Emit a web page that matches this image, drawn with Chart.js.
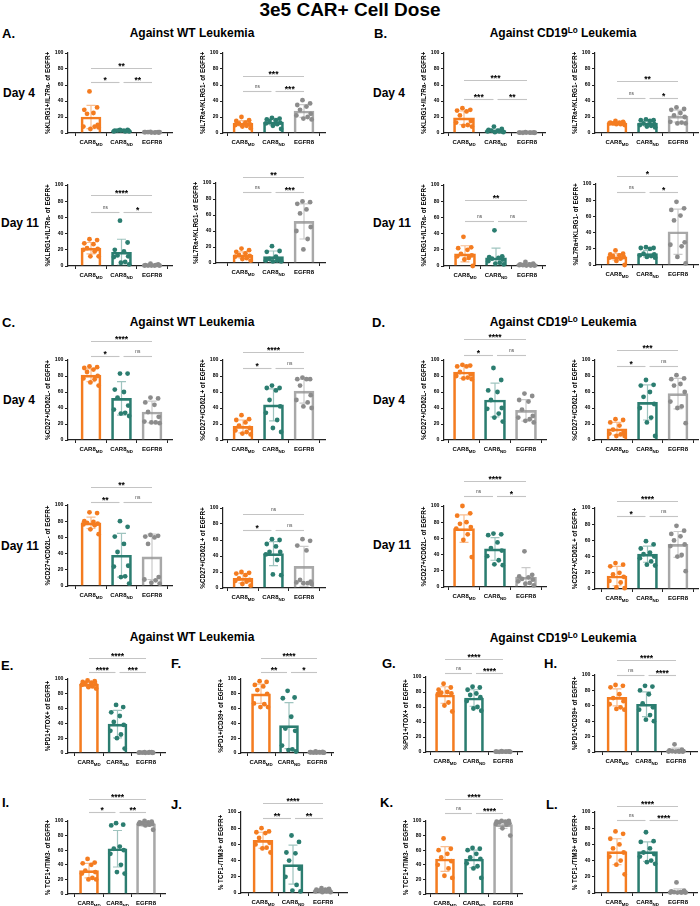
<!DOCTYPE html>
<html><head><meta charset="utf-8">
<script src="https://cdn.jsdelivr.net/npm/chart.js@4"></script>
<style>
body{margin:0;width:700px;height:906px;background:#fff;position:relative;overflow:hidden;font-family:"Liberation Sans",Arial,sans-serif;}
.t{position:absolute;font-weight:bold;color:#000;white-space:nowrap;line-height:1;}
.t sup{font-size:0.68em;vertical-align:0.55em;line-height:0;}
canvas{position:absolute;}
</style></head><body>
<script>
// ---------- categories / ticks ----------
const categories = ["CAR8", "CAR8", "EGFR8"];
const catSubs = ["MD", "ND", ""];
const yTicks = [0, 20, 40, 60, 80, 100];

// ---------- A: Against WT, KLRG1 / IL7Ra ----------
const A1_mean = [20, 3, 1];     const A1_sd = [14.5, 1, 0.5];
const A1_md = [52, 32, 29, 25, 24, 10, 8, 8, 5, 7];
const A1_nd = [4, 4, 3, 3, 3, 3, 2, 2, 3, 2];
const A1_egfr = [1.5, 1, 1, 0.5, 1, 0.5, 1, 0.8, 0.5, 1];
const A1_sig = [[0, 2, 81, "**"], [0, 1, 64, "*"], [1, 2, 64, "**"]];

const A2_mean = [12, 13.5, 27.5]; const A2_sd = [3.5, 3.5, 8];
const A2_md = [20, 16, 15, 13, 12, 11, 10, 9, 8, 6];
const A2_nd = [19, 18, 17, 16, 15, 13, 12, 11, 9, 5];
const A2_egfr = [41, 37, 35, 33, 29, 24, 22, 20, 18, 17];
const A2_sig = [[0, 2, 71, "***"], [0, 1, 53, "ns"], [1, 2, 53, "***"]];

const A3_mean = [22, 17, 1];    const A3_sd = [7, 16, 1];
const A3_md = [33, 32, 28, 27, 22, 21, 20, 18, 12, 12];
const A3_nd = [56, 29, 20, 18, 13, 12, 11, 5, 4, 2];
const A3_egfr = [3, 2, 1, 0.5, 0.5, 1, 0.5, 1, 0.5, 0.5];
const A3_sig = [[0, 2, 87.6, "****"], [0, 1, 67, "ns"], [1, 2, 67, "*"]];

const A4_mean = [10, 8, 52];    const A4_sd = [4, 7, 22];
const A4_md = [18, 16, 14, 12, 10, 9, 8, 6, 5, 3];
const A4_nd = [21, 15, 14, 8, 5, 4, 3, 3, 2, 2];
const A4_egfr = [77, 76, 74, 67, 62, 45, 40, 30, 17];
const A4_sig = [[0, 2, 108, "**"], [0, 1, 89, "ns"], [1, 2, 89, "***"]];

// ---------- B: Against CD19Lo, KLRG1 / IL7Ra ----------
const B1_mean = [19, 3, 0.5];   const B1_sd = [8.5, 2, 0.3];
const B1_md = [31, 29, 28, 27, 22, 15, 13, 10, 9, 8];
const B1_nd = [8, 5, 4, 3, 3, 2, 2, 2, 1, 1];
const B1_egfr = [1, 0.5, 0.5, 0.5, 0.3, 0.5, 0.5, 0.4, 0.5, 0.3];
const B1_sig = [[0, 2, 66, "***"], [0, 1, 42.5, "***"], [1, 2, 42.5, "**"]];

const B2_mean = [12.5, 12.5, 21]; const B2_sd = [1.5, 3.5, 7.5];
const B2_md = [15, 14, 13, 13, 12, 12, 12, 11, 11, 10];
const B2_nd = [17, 16, 16, 15, 12, 11, 10, 9, 8, 7];
const B2_egfr = [32, 30, 29, 25, 22, 20, 14, 13, 12, 12];
const B2_sig = [[0, 2, 65, "**"], [0, 1, 44, "ns"], [1, 2, 44, "*"]];

const B3_mean = [15, 10, 2];    const B3_sd = [10, 12, 2];
const B3_md = [36, 23, 22, 20, 15, 13, 12, 10, 8, 0];
const B3_nd = [44, 12, 11, 10, 9, 8, 6, 4, 3, 2];
const B3_egfr = [5, 3, 2, 2, 1, 1, 1, 0.5, 0.5, 0.5];
const B3_sig = [[0, 2, 81, "**"], [0, 1, 55, "ns"], [1, 2, 55, "ns"]];

const B4_mean = [10, 14, 41];   const B4_sd = [4, 4, 28];
const B4_md = [18, 14, 13, 12, 11, 10, 9, 8, 5, 0];
const B4_nd = [22, 21, 21, 20, 14, 13, 12, 11, 10, 9];
const B4_egfr = [78, 70, 68, 61, 55, 28, 25, 23, 10, 2];
const B4_sig = [[0, 2, 110, "*"], [0, 1, 90, "ns"], [1, 2, 90, "*"]];

// ---------- C: Against WT, CD27 / CD62L ----------
const C1_mean = [81, 52, 35];   const C1_sd = [8, 21, 13.5];
const C1_md = [92, 91, 90, 88, 85, 80, 77, 76, 72, 68];
const C1_nd = [83, 83, 63, 60, 53, 43, 38, 34, 33, 30];
const C1_egfr = [53, 52, 47, 44, 35, 29, 23, 22, 22, 21];
const C1_sig = [[0, 2, 124, "****"], [0, 1, 105, "*"], [1, 2, 105, "ns"]];

const C2_mean = [17, 44, 61];   const C2_sd = [8, 20, 15];
const C2_md = [31, 26, 25, 22, 18, 15, 12, 10, 8, 7];
const C2_nd = [68, 65, 65, 62, 50, 42, 34, 25, 15, 10];
const C2_egfr = [78, 76, 76, 76, 68, 56, 50, 47, 42, 40];
const C2_sig = [[0, 2, 109.6, "****"], [0, 1, 90.4, "*"], [1, 2, 90.4, "ns"]];

const C3_mean = [78, 38, 36];   const C3_sd = [7, 27, 28];
const C3_md = [91, 90, 80, 79, 78, 77, 76, 75, 70, 64];
const C3_nd = [80, 73, 61, 52, 42, 25, 24, 12, 11, 3];
const C3_egfr = [63, 62, 61, 60, 52, 11, 8, 7, 4, 3];
const C3_sig = [[0, 2, 122, "**"], [0, 1, 103.6, "**"], [1, 2, 103.6, "ns"]];

const C4_mean = [12, 43, 27];   const C4_sd = [6, 15, 25];
const C4_md = [20, 19, 18, 16, 12, 10, 9, 8, 5, 3];
const C4_nd = [61, 60, 55, 52, 45, 45, 42, 35, 17, 16];
const C4_egfr = [61, 59, 53, 47, 10, 8, 7, 6, 6, 5];
const C4_sig = [[0, 2, 93, "ns"], [0, 1, 73, "*"], [1, 2, 73, "ns"]];

// ---------- D: Against CD19Lo, CD27 / CD62L ----------
const D1_mean = [85, 50, 37];   const D1_sd = [8, 21, 13.5];
const D1_md = [94, 93, 92, 92, 85, 82, 80, 78, 77, 76];
const D1_nd = [90, 75, 62, 60, 50, 40, 39, 33, 28, 23];
const D1_egfr = [58, 55, 50, 48, 38, 30, 28, 26, 24, 22];
const D1_sig = [[0, 2, 126, "****"], [0, 1, 106, "*"], [1, 2, 106, "ns"]];

const D2_mean = [14, 47, 58];   const D2_sd = [8, 22, 19];
const D2_md = [26, 25, 22, 18, 13, 10, 8, 7, 5, 5];
const D2_nd = [75, 69, 68, 60, 54, 45, 40, 28, 22, 5];
const D2_egfr = [81, 77, 76, 70, 68, 60, 48, 42, 40, 21];
const D2_sig = [[0, 2, 112.5, "***"], [0, 1, 93, "*"], [1, 2, 93, "ns"]];

const D3_mean = [72, 47, 12];   const D3_sd = [17, 14, 12];
const D3_md = [100, 91, 88, 80, 78, 74, 72, 65, 58, 37];
const D3_nd = [66, 65, 64, 55, 48, 45, 38, 33, 28, 27];
const D3_egfr = [44, 15, 13, 12, 10, 9, 7, 5, 4, 2];
const D3_sig = [[0, 2, 131, "****"], [0, 1, 112, "ns"], [1, 2, 112, "*"]];

const D4_mean = [16, 43, 55];   const D4_sd = [12, 10, 16];
const D4_md = [32, 30, 28, 20, 18, 15, 10, 8, 2, 1];
const D4_nd = [59, 55, 50, 45, 43, 40, 38, 34, 30, 29];
const D4_egfr = [78, 72, 68, 65, 60, 55, 53, 42, 40, 22];
const D4_sig = [[0, 2, 108.7, "****"], [0, 1, 90, "*"], [1, 2, 90, "ns"]];

// ---------- E-H: exhaustion ----------
const E_mean = [93, 39, 0.5];   const E_sd = [3, 18.5, 0.3];
const E_md = [98, 97, 96, 95, 94, 93, 92, 90, 89, 87];
const E_nd = [65, 62, 55, 50, 42, 38, 30, 25, 20, 6];
const E_egfr = [1, 1, 0.8, 0.5, 0.5, 0.3, 0.5, 1, 0.3, 0.4];
const E_sig = [[0, 2, 129, "****"], [0, 1, 110, "****"], [1, 2, 110, "***"]];

const F_mean = [80, 37, 1];     const F_sd = [13, 31, 0.5];
const F_md = [97, 96, 92, 90, 85, 80, 67, 66, 62, 62];
const F_nd = [84, 75, 74, 49, 33, 30, 10, 5, 4, 2];
const F_egfr = [2, 1.5, 1, 1, 0.5, 0.5, 1, 0.8, 0.5, 0.5];
const F_sig = [[0, 2, 128, "****"], [0, 1, 110, "**"], [1, 2, 110, "*"]];

const G_mean = [76, 72, 0.5];   const G_sd = [11, 11, 0.3];
const G_md = [91, 86, 83, 80, 79, 78, 77, 66, 62, 54];
const G_nd = [87, 86, 83, 78, 76, 73, 68, 60, 58, 55];
const G_egfr = [1, 0.8, 0.5, 0.5, 0.3, 0.5, 0.4, 0.6, 0.5, 0.3];
const G_sig = [[0, 2, 124, "****"], [0, 1, 105, "ns"], [1, 2, 105, "****"]];

const H_mean = [71, 62, 2];     const H_sd = [11, 16, 3];
const H_md = [87, 86, 84, 75, 70, 66, 62, 58, 56, 55];
const H_nd = [86, 85, 80, 75, 63, 58, 55, 48, 42, 40];
const H_egfr = [10, 3, 2, 1, 1, 0.5, 0.5, 0.5, 0.5, 1];
const H_sig = [[0, 2, 119, "****"], [0, 1, 100, "ns"], [1, 2, 100, "****"]];

// ---------- I-L: TCF1 / TIM3 ----------
const I_mean = [32, 62, 96];    const I_sd = [10, 25, 3];
const I_md = [48, 43, 42, 40, 32, 30, 28, 22, 20, 20];
const I_nd = [97, 95, 94, 65, 62, 60, 55, 40, 30, 28];
const I_egfr = [100, 99, 98, 98, 97, 96, 96, 95, 94, 88];
const I_sig = [[0, 2, 130.5, "****"], [0, 1, 112, "*"], [1, 2, 112, "**"]];

const J_mean = [65, 35, 3];     const J_sd = [10, 24, 2];
const J_md = [80, 76, 75, 74, 68, 62, 60, 56, 55, 50];
const J_nd = [71, 63, 50, 49, 40, 30, 20, 10, 3, 2];
const J_egfr = [6, 5, 4, 4, 3, 3, 2, 2, 1, 1];
const J_sig = [[0, 2, 111, "****"], [0, 1, 92, "**"], [1, 2, 92, "**"]];

const K_mean = [48, 48, 95];    const K_sd = [17, 12, 5];
const K_md = [76, 62, 60, 55, 50, 45, 40, 35, 25, 22];
const K_nd = [63, 62, 60, 55, 50, 48, 42, 38, 35, 22];
const K_egfr = [100, 100, 99, 99, 98, 97, 96, 95, 90, 80];
const K_sig = [[0, 2, 130.5, "****"], [0, 1, 111, "ns"], [1, 2, 111, "****"]];

const L_mean = [51, 51, 2];     const L_sd = [16, 12, 3];
const L_md = [76, 73, 67, 60, 55, 50, 45, 40, 35, 23];
const L_nd = [75, 64, 63, 55, 50, 48, 45, 40, 38, 36];
const L_egfr = [13, 3, 2, 1, 1, 1, 0.5, 0.5, 0.5, 0.5];
const L_sig = [[0, 2, 108, "****"], [0, 1, 90, "ns"], [1, 2, 90, "****"]];

// ---------- layout (positions only) ----------
const YL = {
  klrg: "%KLRG1+/IL7Ra- of EGFR+", il7: "%IL7Ra+/KLRG1- of EGFR+",
  cdm: "%CD27+/CD62L- of EGFR+", cdp: "%CD27+/CD62L+ of EGFR+",
  tox: "%PD1+/TOX+ of EGFR+", cd39: "%PD1+/CD39+ of EGFR+",
  tcfp: "% TCF1+/TIM3- of EGFR+", tcfm: "% TCF1-/TIM3+ of EGFR+"
};
const LAYOUT = {
  A1: {ax: 68, xe: 172, y100: 53, y0: 133, c: [91, 121, 152], yl: YL.klrg},
  A2: {ax: 223, xe: 325, y100: 53, y0: 133, c: [243, 274, 304], yl: YL.il7},
  A3: {ax: 68, xe: 172, y100: 185, y0: 266, c: [91, 121, 152], yl: YL.klrg},
  A4: {ax: 216, xe: 325, y100: 183, y0: 263, c: [243, 274, 304], yl: YL.il7},
  B1: {ax: 444, xe: 545, y100: 53, y0: 133, c: [464, 495, 527], yl: YL.klrg},
  B2: {ax: 595, xe: 698, y100: 53, y0: 133, c: [617, 647, 678], yl: YL.il7},
  B3: {ax: 444, xe: 545, y100: 185, y0: 266, c: [465, 495, 527], yl: YL.klrg},
  B4: {ax: 596, xe: 698, y100: 184, y0: 265, c: [617, 648, 678], yl: YL.il7},
  C1: {ax: 68, xe: 172, y100: 360, y0: 440, c: [91, 121, 152], yl: YL.cdm},
  C2: {ax: 223, xe: 325, y100: 360, y0: 440, c: [243, 274, 304], yl: YL.cdp},
  C3: {ax: 68, xe: 172, y100: 505, y0: 586, c: [91, 121, 152], yl: YL.cdm},
  C4: {ax: 223, xe: 325, y100: 508, y0: 588, c: [243, 274, 304], yl: YL.cdp},
  D1: {ax: 444, xe: 546, y100: 360, y0: 440, c: [464, 495, 526], yl: YL.cdm},
  D2: {ax: 595, xe: 698, y100: 360, y0: 440, c: [617, 648, 678], yl: YL.cdp},
  D3: {ax: 444, xe: 546, y100: 506, y0: 587, c: [464, 495, 526], yl: YL.cdm},
  D4: {ax: 595, xe: 698, y100: 508, y0: 589, c: [617, 648, 678], yl: YL.cdp},
  E: {ax: 68, xe: 165, y100: 679, y0: 753, c: [89, 117, 146], yl: YL.tox},
  F: {ax: 241, xe: 333, y100: 679, y0: 753, c: [261, 289, 317], yl: YL.cd39},
  G: {ax: 426, xe: 522, y100: 677, y0: 752, c: [445, 474, 503], yl: YL.tox},
  H: {ax: 595, xe: 697, y100: 675, y0: 752, c: [617, 647, 676], yl: YL.cd39},
  I: {ax: 68, xe: 165, y100: 821, y0: 894, c: [89, 117, 146], yl: YL.tcfp},
  J: {ax: 241, xe: 347, y100: 812, y0: 893, c: [263, 293, 323], yl: YL.tcfm},
  K: {ax: 426, xe: 522, y100: 821, y0: 894, c: [445, 474, 503], yl: YL.tcfp},
  L: {ax: 595, xe: 697, y100: 812, y0: 893, c: [617, 648, 678], yl: YL.tcfm}
};

// ---------- styles ----------
const FAM = '"Liberation Sans", Arial, sans-serif';
const BAR_COLORS = ['#F47C20', '#2B7D70', '#A8A8A8'];
const PT_COLORS = ['#F47C20', '#2B7D70', '#8C8C8C'];
const ERR_COLORS = ['rgba(244,124,32,0.5)', 'rgba(43,125,112,0.45)', 'rgba(150,150,150,0.5)'];
const JIT = [-0.05, 0.2, -0.22, 0.08, -0.13, 0.22, -0.25, 0.12, -0.02, 0.25];

Chart.defaults.font.family = FAM;

function textDiv(html, x, yc, size, center) {
  const d = document.createElement('div');
  d.className = 't';
  d.innerHTML = html;
  d.style.fontSize = size + 'px';
  d.style.top = (yc - 0.49 * size) + 'px';
  if (center) { d.style.left = (x - 300) + 'px'; d.style.width = '600px'; d.style.textAlign = 'center'; }
  else d.style.left = x + 'px';
  document.body.appendChild(d);
}

function build(name, mean, sd, groups, sig) {
  const L = LAYOUT[name];
  const s = (L.c[2] - L.c[0]) / 2;
  const xmin = -(L.c[0] - L.ax) / s;
  const xmax = 2 + (L.xe - L.c[2]) / s;
  const per = (L.y0 - L.y100) / 100;
  const maxSig = Math.max(100, ...sig.map(d => d[2]));
  const top = Math.floor(L.y0 - maxSig * per - 14);
  const padL = 24, bottom = 20;
  const left = L.ax - padL;
  const width = L.xe - left + 4;
  const height = L.y0 - top + bottom;
  const cv = document.createElement('canvas');
  cv.width = width; cv.height = height;
  cv.style.left = left + 'px'; cv.style.top = top + 'px';
  cv.style.width = width + 'px'; cv.style.height = height + 'px';
  document.body.appendChild(cv);
  const pts = [];
  groups.forEach((g, gi) => g.forEach((v, k) => pts.push({x: gi + JIT[k % JIT.length], y: v, g: gi})));

  const errPlugin = {
    id: 'err' + name,
    afterDatasetDraw(chart, args) {
      if (args.index !== 0) return;
      const ctx = chart.ctx, xs = chart.scales.x, ys = chart.scales.y;
      ctx.save();
      ctx.lineWidth = 1.2;
      mean.forEach((m, i) => {
        const x = xs.getPixelForValue(i);
        const yt = ys.getPixelForValue(m + sd[i]);
        const yb = ys.getPixelForValue(Math.max(0, m - sd[i]));
        ctx.strokeStyle = ERR_COLORS[i];
        ctx.beginPath();
        ctx.moveTo(x, yt); ctx.lineTo(x, yb);
        ctx.moveTo(x - 4.5, yt); ctx.lineTo(x + 4.5, yt);
        ctx.moveTo(x - 4.5, yb); ctx.lineTo(x + 4.5, yb);
        ctx.stroke();
      });
      ctx.restore();
    }
  };
  const annoPlugin = {
    id: 'anno' + name,
    afterDraw(chart) {
      const ctx = chart.ctx, xs = chart.scales.x, ys = chart.scales.y;
      const ca = chart.chartArea;
      ctx.save();
      // category labels with subscripts
      ctx.fillStyle = '#000';
      ctx.textBaseline = 'alphabetic';
      categories.forEach((c, i) => {
        const cx = xs.getPixelForValue(i);
        ctx.font = 'bold 6px ' + FAM;
        const w1 = ctx.measureText(c).width;
        ctx.font = 'bold 4.4px ' + FAM;
        const w2 = catSubs[i] ? ctx.measureText(catSubs[i]).width : 0;
        const x0 = cx - (w1 + w2) / 2;
        const by = ca.bottom + 11;
        ctx.font = 'bold 6px ' + FAM;
        ctx.textAlign = 'left';
        ctx.fillText(c, x0, by);
        if (catSubs[i]) { ctx.font = 'bold 4.4px ' + FAM; ctx.fillText(catSubs[i], x0 + w1, by + 1.8); }
      });
      // significance brackets
      sig.forEach(([i, j, v, t]) => {
        let x1 = xs.getPixelForValue(i), x2 = xs.getPixelForValue(j);
        if (j - i === 1) { if (i === 0) x2 -= 2; else x1 += 2; }
        const y = Math.round(ys.getPixelForValue(v)) + 0.5;
        ctx.strokeStyle = '#c4c4c4';
        ctx.lineWidth = 1.1;
        ctx.beginPath(); ctx.moveTo(x1, y); ctx.lineTo(x2, y); ctx.stroke();
        ctx.textAlign = 'center';
        if (t === 'ns') {
          ctx.font = '4.8px ' + FAM; ctx.fillStyle = '#444';
          ctx.fillText(t, (x1 + x2) / 2, y - 3.2);
        } else {
          ctx.font = 'bold 8.5px ' + FAM; ctx.fillStyle = '#000';
          ctx.fillText(t, (x1 + x2) / 2, y + 0.5);
        }
      });
      ctx.restore();
    }
  };

  new Chart(cv, {
    type: 'bar',
    data: {
      datasets: [
        {type: 'bar', data: mean.map((m, i) => ({x: i, y: m})), backgroundColor: 'rgba(255,255,255,0)',
         borderColor: BAR_COLORS, borderWidth: 2, barThickness: Math.round(s * 0.67), borderSkipped: 'start', order: 2},
        {type: 'scatter', data: pts, pointRadius: 2.4, pointHoverRadius: 2.4, pointBorderWidth: 0,
         pointBackgroundColor: c => PT_COLORS[c.raw ? c.raw.g : 0], clip: false, order: 1}
      ]
    },
    options: {
      responsive: false, animation: false, devicePixelRatio: 1,
      events: [],
      layout: {padding: {left: 0, top: L.y100 - top, right: width - (L.xe - left), bottom: 0}},
      plugins: {legend: {display: false}, tooltip: {enabled: false}},
      scales: {
        x: {type: 'linear', min: xmin, max: xmax, bounds: 'data', offset: false,
            ticks: {display: false},
            grid: {drawOnChartArea: false, drawTicks: true, tickLength: 3, color: '#222', lineWidth: 1},
            border: {display: true, color: '#222', width: 1.2},
            afterBuildTicks: sc => { sc.ticks = [0, 1, 2].map(v => ({value: v})); },
            afterFit: sc => { sc.height = bottom; }},
        y: {type: 'linear', min: yTicks[0], max: yTicks[yTicks.length - 1],
            ticks: {stepSize: yTicks[1] - yTicks[0], font: {size: 5.2, weight: 'bold'}, color: '#000', padding: 1.5},
            grid: {drawOnChartArea: false, drawTicks: true, tickLength: 3, color: '#222', lineWidth: 1},
            border: {display: true, color: '#222', width: 1.2},
            title: {display: true, text: L.yl, font: {size: 6.3, weight: 'bold'}, color: '#000', padding: 0},
            afterFit: sc => { sc.width = padL; }}
      }
    },
    plugins: [errPlugin, annoPlugin]
  });
}

// ---------- headings ----------
const LO = 'Against CD19<sup>Lo</sup> Leukemia';
textDiv('3e5 CAR+ Cell Dose', 350, 9, 19, true);
textDiv('A.', 2, 33, 13, false);   textDiv('Against WT Leukemia', 192, 33, 12, true);
textDiv('B.', 374, 33, 13, false); textDiv(LO, 563, 33, 12, true);
textDiv('Day 4', 3, 93, 12, false);  textDiv('Day 4', 373, 93, 12, false);
textDiv('Day 11', 1, 223, 12, false); textDiv('Day 11', 373, 223, 12, false);
textDiv('C.', 2, 322, 13, false);  textDiv('Against WT Leukemia', 192, 322, 12, true);
textDiv('D.', 372, 322, 13, false); textDiv(LO, 563, 322, 12, true);
textDiv('Day 4', 3, 400, 12, false);  textDiv('Day 4', 373, 400, 12, false);
textDiv('Day 11', 1, 546, 12, false); textDiv('Day 11', 373, 545, 12, false);
textDiv('Against WT Leukemia', 192, 637, 12, true); textDiv(LO, 563, 638, 12, true);
textDiv('E.', 1, 665, 13, false); textDiv('F.', 171, 663, 13, false);
textDiv('G.', 382, 663, 13, false); textDiv('H.', 544, 663, 13, false);
textDiv('I.', 2, 802, 13, false); textDiv('J.', 171, 804, 13, false);
textDiv('K.', 380, 802, 13, false); textDiv('L.', 546, 804, 13, false);

// ---------- charts ----------
build('A1', A1_mean, A1_sd, [A1_md, A1_nd, A1_egfr], A1_sig);
build('A2', A2_mean, A2_sd, [A2_md, A2_nd, A2_egfr], A2_sig);
build('A3', A3_mean, A3_sd, [A3_md, A3_nd, A3_egfr], A3_sig);
build('A4', A4_mean, A4_sd, [A4_md, A4_nd, A4_egfr], A4_sig);
build('B1', B1_mean, B1_sd, [B1_md, B1_nd, B1_egfr], B1_sig);
build('B2', B2_mean, B2_sd, [B2_md, B2_nd, B2_egfr], B2_sig);
build('B3', B3_mean, B3_sd, [B3_md, B3_nd, B3_egfr], B3_sig);
build('B4', B4_mean, B4_sd, [B4_md, B4_nd, B4_egfr], B4_sig);
build('C1', C1_mean, C1_sd, [C1_md, C1_nd, C1_egfr], C1_sig);
build('C2', C2_mean, C2_sd, [C2_md, C2_nd, C2_egfr], C2_sig);
build('C3', C3_mean, C3_sd, [C3_md, C3_nd, C3_egfr], C3_sig);
build('C4', C4_mean, C4_sd, [C4_md, C4_nd, C4_egfr], C4_sig);
build('D1', D1_mean, D1_sd, [D1_md, D1_nd, D1_egfr], D1_sig);
build('D2', D2_mean, D2_sd, [D2_md, D2_nd, D2_egfr], D2_sig);
build('D3', D3_mean, D3_sd, [D3_md, D3_nd, D3_egfr], D3_sig);
build('D4', D4_mean, D4_sd, [D4_md, D4_nd, D4_egfr], D4_sig);
build('E', E_mean, E_sd, [E_md, E_nd, E_egfr], E_sig);
build('F', F_mean, F_sd, [F_md, F_nd, F_egfr], F_sig);
build('G', G_mean, G_sd, [G_md, G_nd, G_egfr], G_sig);
build('H', H_mean, H_sd, [H_md, H_nd, H_egfr], H_sig);
build('I', I_mean, I_sd, [I_md, I_nd, I_egfr], I_sig);
build('J', J_mean, J_sd, [J_md, J_nd, J_egfr], J_sig);
build('K', K_mean, K_sd, [K_md, K_nd, K_egfr], K_sig);
build('L', L_mean, L_sd, [L_md, L_nd, L_egfr], L_sig);
</script>
</body></html>
